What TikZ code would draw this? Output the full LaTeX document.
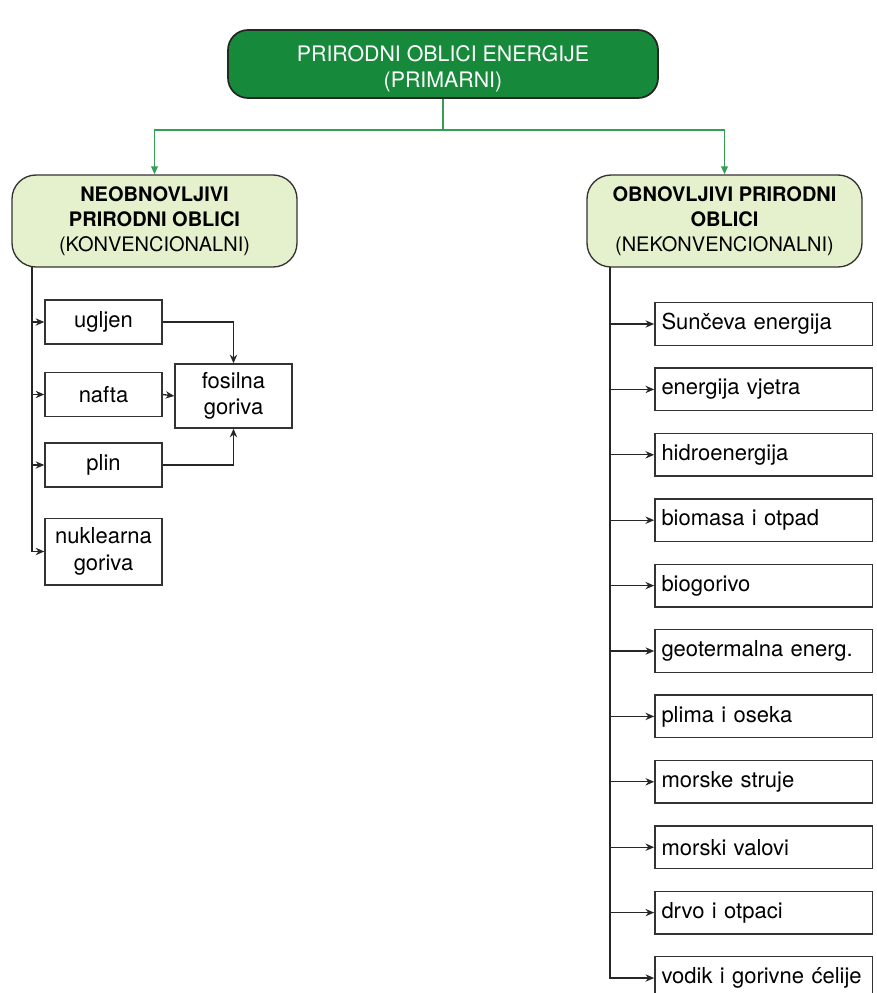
\documentclass[tikz,border=0pt]{standalone}
\usepackage{fontspec}
\setmainfont{TeX Gyre Heros}
\usetikzlibrary{arrows.meta}

\definecolor{darkgrn}{RGB}{22,138,58}
\definecolor{palegrn}{RGB}{229,241,204}
\definecolor{linegrn}{RGB}{52,158,84}

\tikzset{every picture/.style={line width=0.75pt}}

\begin{document}
\begin{tikzpicture}[x=0.75pt,y=0.75pt,yscale=-1,xscale=1,
  mainbox/.style={draw=black!85,line width=1.3pt,fill=darkgrn,rounded corners=15pt,
    minimum width=322.5pt,minimum height=51pt,align=center,text=white,
    font=\fontsize{16}{20}\selectfont},
  groupbox/.style={draw=black!80,line width=1pt,fill=palegrn,rounded corners=18pt,
    minimum height=69pt,align=center,font=\fontsize{15}{18.75}\selectfont},
  itembox/.style={draw=black!80,line width=1pt,minimum width=87.75pt,minimum height=33pt,
    align=center,inner sep=2pt,font=\fontsize{16.5}{20}\selectfont},
  listbox/.style={draw=black!80,line width=1pt,minimum height=32pt,
    text width=153pt,inner xsep=5pt,align=left,font=\fontsize{16.5}{20}\selectfont},
  gline/.style={draw=linegrn,line width=1.1pt},
  bline/.style={draw=black!85,line width=1pt},
  garrow/.style={gline,-{Triangle[length=6pt,width=5pt]}},
  barrow/.style={bline,-{Stealth[length=6.5pt,width=5.5pt]}}]
\useasboundingbox (0,0) rectangle (877,993);

%Top box
\node [mainbox] (top) at (443,64) {\rule{0pt}{19pt}PRIRODNI OBLICI ENERGIJE\\(PRIMARNI)};

%Group boxes
\node [groupbox,minimum width=213.75pt] (left) at (154.5,221) {\bfseries NEOBNOVLJIVI\\\bfseries PRIRODNI OBLICI\\(KONVENCIONALNI)};
\node [groupbox,minimum width=206.25pt] (right) at (724.5,221) {\bfseries OBNOVLJIVI PRIRODNI\\\bfseries OBLICI\\(NEKONVENCIONALNI)};

% green split
\coordinate (hub) at (443,130);
\draw [gline] (top.south) -- (hub);
\draw [garrow] (hub) -| (left.north);
\draw [garrow] (hub) -| (right.north);

%Left items
\node [itembox] (ugljen) at (103.5,322) {ugljen};
\node [itembox] (nafta) at (103.5,394.5) {nafta};
\node [itembox] (plin) at (103.5,465) {plin};
\node [itembox,minimum height=50pt] (nukl) at (103.5,551.5) {nuklearna\\goriva};
\node [itembox,minimum height=48pt] (fosil) at (233.5,396) {fosilna\\goriva};

\coordinate (lt) at (32,267);
\draw [barrow] (lt) |- (nukl.west);
\draw [barrow] (lt |- ugljen.west) -- (ugljen.west);
\draw [barrow] (lt |- nafta.west) -- (nafta.west);
\draw [barrow] (lt |- plin.west) -- (plin.west);

\draw [barrow] (ugljen.east) -| (fosil.north);
\draw [barrow] (nafta.east) -- (fosil.west);
\draw [barrow] (plin.east) -| (fosil.south);

%Right items
\node [listbox] (r1) at (763.5,324) {Sunčeva energija};
\node [listbox] (r2) at (763.5,389.4) {energija vjetra};
\node [listbox] (r3) at (763.5,454.8) {hidroenergija};
\node [listbox] (r4) at (763.5,520.2) {biomasa i otpad};
\node [listbox] (r5) at (763.5,585.6) {biogorivo};
\node [listbox] (r6) at (763.5,651) {geotermalna energ.};
\node [listbox] (r7) at (763.5,716.4) {plima i oseka};
\node [listbox] (r8) at (763.5,781.8) {morske struje};
\node [listbox] (r9) at (763.5,847.2) {morski valovi};
\node [listbox] (r10) at (763.5,912.6) {drvo i otpaci};
\node [listbox] (r11) at (763.5,978) {vodik i gorivne ćelije};

\coordinate (rt) at (610,267);
\draw [barrow] (rt) |- (r11.west);
\draw [barrow] (rt |- r1.west) -- (r1.west);
\draw [barrow] (rt |- r2.west) -- (r2.west);
\draw [barrow] (rt |- r3.west) -- (r3.west);
\draw [barrow] (rt |- r4.west) -- (r4.west);
\draw [barrow] (rt |- r5.west) -- (r5.west);
\draw [barrow] (rt |- r6.west) -- (r6.west);
\draw [barrow] (rt |- r7.west) -- (r7.west);
\draw [barrow] (rt |- r8.west) -- (r8.west);
\draw [barrow] (rt |- r9.west) -- (r9.west);
\draw [barrow] (rt |- r10.west) -- (r10.west);

\end{tikzpicture}
\end{document}
